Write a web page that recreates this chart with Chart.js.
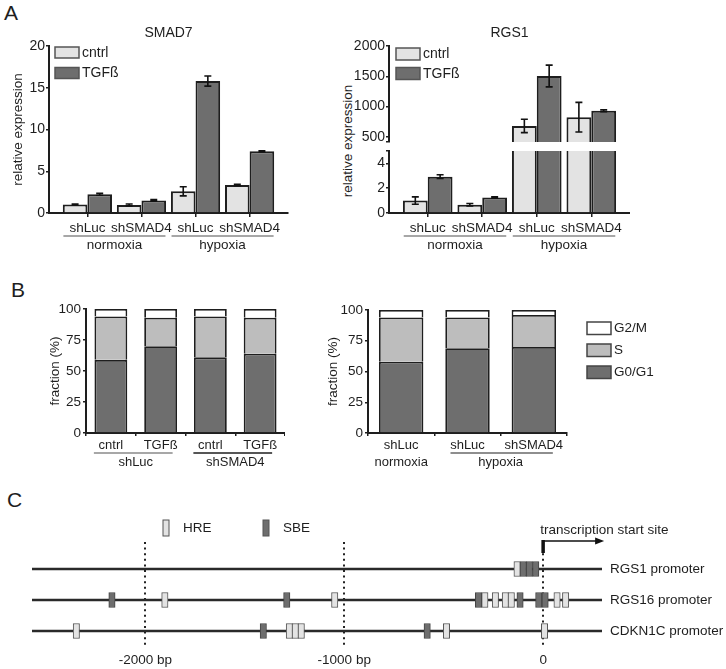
<!DOCTYPE html>
<html>
<head>
<meta charset="utf-8">
<title>SMAD7 / RGS1 expression, cell cycle and promoters</title>
<script src="https://cdn.jsdelivr.net/npm/chart.js@4.4.1/dist/chart.umd.min.js"></script>
<style>
  body { margin: 0; background: #fff; }
  #fig { position: relative; width: 726px; height: 669px; overflow: hidden;
         font-family: 'Liberation Sans', Arial, sans-serif; color: #1e1e1e; }
  #fig canvas { position: absolute; }
  .txt { position: absolute; white-space: nowrap; line-height: 1; }
  .panel { font-size: 21px; }
  .ylab { font-size: 13.5px; transform: translate(-50%, -50%) rotate(-90deg); }
</style>
</head>
<body>
<div id="fig">
  <div class="txt panel" style="left:4px;top:2px">A</div>
  <div class="txt panel" style="left:11px;top:279px">B</div>
  <div class="txt panel" style="left:7px;top:489px">C</div>
  <div class="txt ylab" style="left:348px;top:141px">relative expression</div>
  <canvas id="smad7" width="300" height="260" style="left:0;top:0"></canvas>
  <canvas id="rgs1Top" width="290" height="152" style="left:340px;top:0"></canvas>
  <canvas id="rgs1Bottom" width="290" height="120" style="left:340px;top:140px"></canvas>
  <canvas id="cycleLeft" width="249" height="177" style="left:36px;top:298px"></canvas>
  <canvas id="cycleRight" width="406" height="176" style="left:320px;top:299px"></canvas>
  <canvas id="promoters" width="726" height="189" style="left:0;top:480px"></canvas>
</div>
<script>
const FONT = "'Liberation Sans', Arial, sans-serif";
const INK = '#1e1e1e';
const LIGHT = '#e3e3e3', MID = '#bdbdbd', DARK = '#6e6e6e';

// A - relative expression (mean, error)
const aCategories = ['shLuc', 'shSMAD4', 'shLuc', 'shSMAD4'];
const aSeries = ['cntrl', 'TGFß'];
const smad7Cntrl = [1.02, 0.95, 2.6, 3.35];
const smad7CntrlErr = [0.05, 0.12, 0.55, 0.08];
const smad7Tgf = [2.25, 1.5, 15.8, 7.4];
const smad7TgfErr = [0.12, 0.1, 0.6, 0.05];
const smad7Ticks = [0, 5, 10, 15, 20];
const rgs1Cntrl = [1.0, 0.67, 680, 825];
const rgs1CntrlErr = [0.3, 0.1, 110, 245];
const rgs1Tgf = [2.93, 1.25, 1505, 930];
const rgs1TgfErr = [0.15, 0.05, 180, 15];
const rgs1UpperTicks = [500, 1000, 1500, 2000];
const rgs1LowerTicks = [0, 2, 4];
const rgs1UpperMin = 415;   // axis break
const rgs1LowerMax = 5;

// B - cell cycle fractions (%)
const phases = ['G0/G1', 'S', 'G2/M'];
const cycleLeftLabels = ['cntrl', 'TGFß', 'cntrl', 'TGFß'];
const cycleLeftG0G1 = [59, 70, 61, 64];
const cycleLeftS = [35, 23, 33, 29];
const cycleLeftG2M = [6, 7, 6, 7];
const cycleRightLabels = ['shLuc', 'shLuc', 'shSMAD4'];
const cycleRightG0G1 = [58, 69, 70];
const cycleRightS = [36, 25, 26];
const cycleRightG2M = [6, 6, 4];
const cycleTicks = [0, 25, 50, 75, 100];

// C - binding sites (centre, bp relative to TSS)
const promoters = ['RGS1 promoter', 'RGS16 promoter', 'CDKN1C promoter'];
const hreSites = [
  [-131],
  [-1902, -1048, -293, -240, -190, -160, 70, 113],
  [-2347, -1276, -1246, -1216, -486, 7]
];
const sbeSites = [
  [-100, -69, -37],
  [-2168, -1289, -325, -116, -22, 10],
  [-1407, -583]
];
const siteWidth = 32;
const promoterSpan = [-2570, 296];
const bpTicks = [-2000, -1000, 0];
const bpTickLabels = ['-2000 bp', '-1000 bp', '0'];

Chart.defaults.font.family = FONT;
Chart.defaults.font.size = 13;
Chart.defaults.color = INK;
Chart.defaults.animation = false;
Chart.defaults.responsive = false;
Chart.defaults.plugins.legend.display = false;
Chart.defaults.plugins.tooltip.enabled = false;

// error bars from dataset.errors
const errorBars = {
  id: 'errorBars',
  afterDatasetsDraw(chart) {
    const ctx = chart.ctx, y = chart.scales.y;
    chart.data.datasets.forEach((ds, i) => {
      if (!ds.errors) return;
      const meta = chart.getDatasetMeta(i);
      meta.data.forEach((bar, j) => {
        const v = meta.controller.getParsed(j).y, e = ds.errors[j];
        if (v < y.min || v > y.max) return;
        const top = y.getPixelForValue(v + e), bot = y.getPixelForValue(v - e);
        ctx.save();
        ctx.strokeStyle = '#111';
        ctx.lineWidth = 1.6;
        ctx.beginPath();
        ctx.moveTo(bar.x, top); ctx.lineTo(bar.x, bot);
        ctx.moveTo(bar.x - 3.5, top); ctx.lineTo(bar.x + 3.5, top);
        ctx.moveTo(bar.x - 3.5, bot); ctx.lineTo(bar.x + 3.5, bot);
        ctx.stroke();
        ctx.restore();
      });
    });
  }
};

// second row of x labels with underline
const groupLabels = {
  id: 'groupLabels',
  afterDraw(chart, args, o) {
    if (!o.groups) return;
    const ctx = chart.ctx, x = chart.scales.x, b = chart.chartArea.bottom;
    ctx.save();
    ctx.font = o.size + 'px ' + FONT;
    ctx.textAlign = 'center';
    ctx.textBaseline = 'middle';
    o.groups.forEach(g => {
      const x0 = x.getPixelForValue(g.from), x1 = x.getPixelForValue(g.to);
      if (g.color) {
        ctx.strokeStyle = g.color;
        ctx.lineWidth = o.lineWidth;
        ctx.beginPath();
        ctx.moveTo(x0 - o.padL, b + o.lineY);
        ctx.lineTo(x1 + o.padR, b + o.lineY);
        ctx.stroke();
      }
      ctx.fillStyle = INK;
      ctx.fillText(g.label, (x0 + x1) / 2, b + o.textY);
    });
    ctx.restore();
  }
};

// small legend from the datasets
const boxLegend = {
  id: 'boxLegend',
  afterDraw(chart, args, o) {
    if (!o.size) return;
    const ctx = chart.ctx, a = chart.chartArea;
    let items = chart.data.datasets.filter(d => d.label).map(d => ({ text: d.label, color: d.backgroundColor }));
    if (o.reverse) items = items.reverse();
    ctx.save();
    ctx.font = o.size + 'px ' + FONT;
    ctx.textAlign = 'left';
    ctx.textBaseline = 'middle';
    items.forEach((it, k) => {
      const bx = (o.fromRight ? a.right : a.left) + o.x + k * (o.stepX || 0);
      const by = a.top + o.y + k * (o.stepY || 0);
      ctx.fillStyle = it.color;
      ctx.fillRect(bx, by, o.w, o.h);
      ctx.strokeStyle = o.edge;
      ctx.lineWidth = o.lw;
      ctx.strokeRect(bx, by, o.w, o.h);
      ctx.fillStyle = INK;
      ctx.fillText(it.text, bx + o.w + o.gap, by + o.h / 2 + 0.5);
    });
    ctx.restore();
  }
};

Chart.register(errorBars, groupLabels, boxLegend);

function barSets(cntrl, cntrlErr, tgf, tgfErr) {
  const common = { borderColor: INK, borderWidth: 2, categoryPercentage: 0.91, barPercentage: 1 };
  return [
    Object.assign({ label: aSeries[0], data: cntrl.map((v, i) => ({ x: i, y: v })), errors: cntrlErr, backgroundColor: LIGHT }, common),
    Object.assign({ label: aSeries[1], data: tgf.map((v, i) => ({ x: i, y: v })), errors: tgfErr, backgroundColor: DARK }, common)
  ];
}

function xAxisA(show) {
  const axis = {
    type: 'linear', display: show, min: -0.71, max: 3.71, bounds: 'data', offset: false,
    afterBuildTicks: s => { s.ticks = aCategories.map((c, i) => ({ value: i })); },
    ticks: { callback: v => aCategories[v], autoSkip: false, maxRotation: 0, padding: 3, font: { size: 13.5 } },
    grid: { offset: false, drawOnChartArea: false, tickLength: 4, color: INK, lineWidth: 1.5 },
    border: { color: INK, width: 2 }
  };
  if (show) axis.afterFit = s => { s.height = 47; };
  return axis;
}

function yAxisA(min, max, ticks, blank, title) {
  const all = blank === undefined ? ticks : ticks.concat([blank]);
  return {
    min: min, max: max,
    afterBuildTicks: s => { s.ticks = all.map(v => ({ value: v })); },
    ticks: { callback: v => (v === blank ? '' : v), autoSkip: false, padding: 1, font: { size: 14 } },
    grid: { drawOnChartArea: false, tickLength: 3, color: INK, lineWidth: 1.5 },
    border: { color: INK, width: 2 },
    title: title ? { display: true, text: title, font: { size: 13.5 }, padding: { top: 10, bottom: 0 } } : { display: false },
    afterFit: s => { s.width = 49; }
  };
}

const aGroupOpts = {
  size: 13.5, lineWidth: 1.5, lineY: 23, textY: 32, padL: 24, padR: 24,
  groups: [
    { from: 0, to: 1, label: 'normoxia', color: '#8a8a8a' },
    { from: 2, to: 3, label: 'hypoxia', color: '#8a8a8a' }
  ]
};
const aLegendOpts = { size: 14, x: 6, y: 1, w: 24, h: 11, stepY: 20.5, gap: 3, edge: '#555', lw: 1.5 };

new Chart(document.getElementById('smad7'), {
  type: 'bar',
  data: { datasets: barSets(smad7Cntrl, smad7CntrlErr, smad7Tgf, smad7TgfErr) },
  options: {
    layout: { padding: { top: 0, right: 12, bottom: 0, left: 0 } },
    plugins: {
      title: { display: true, text: 'SMAD7', fullSize: false, font: { size: 14, weight: 'normal' }, padding: { top: 24.6, bottom: 4.6 } },
      groupLabels: aGroupOpts,
      boxLegend: aLegendOpts
    },
    scales: { x: xAxisA(true), y: yAxisA(0, 20, smad7Ticks, undefined, 'relative expression') }
  }
});

new Chart(document.getElementById('rgs1Top'), {
  type: 'bar',
  data: { datasets: barSets(rgs1Cntrl, rgs1CntrlErr, rgs1Tgf, rgs1TgfErr) },
  options: {
    layout: { padding: { top: 0, right: 0, bottom: 10, left: 0 } },
    plugins: {
      title: { display: true, text: 'RGS1', fullSize: false, font: { size: 14, weight: 'normal' }, padding: { top: 24.6, bottom: 4.6 } },
      boxLegend: Object.assign({}, aLegendOpts, { x: 7, y: 2, h: 12, stepY: 19.5 })
    },
    scales: { x: xAxisA(false), y: yAxisA(rgs1UpperMin, 2000, rgs1UpperTicks, rgs1UpperMin) }
  }
});

new Chart(document.getElementById('rgs1Bottom'), {
  type: 'bar',
  data: { datasets: barSets(rgs1Cntrl, rgs1CntrlErr, rgs1Tgf, rgs1TgfErr) },
  options: {
    layout: { padding: { top: 11, right: 0, bottom: 0, left: 0 } },
    plugins: { groupLabels: aGroupOpts },
    scales: { x: xAxisA(true), y: yAxisA(0, rgs1LowerMax, rgs1LowerTicks, rgs1LowerMax) }
  }
});

// B
function cycleSets(g0g1, s, g2m, barPct) {
  const common = { borderColor: INK, borderWidth: 1.8, barPercentage: barPct, categoryPercentage: 1 };
  return [
    Object.assign({ label: phases[0], data: g0g1, backgroundColor: DARK }, common),
    Object.assign({ label: phases[1], data: s, backgroundColor: MID }, common),
    Object.assign({ label: phases[2], data: g2m, backgroundColor: '#ffffff' }, common)
  ];
}

function cycleScales(yWidth, titlePad) {
  return {
    x: {
      stacked: true,
      ticks: { autoSkip: false, maxRotation: 0, padding: 2, font: { size: 13 } },
      grid: { offset: true, drawOnChartArea: false, tickLength: 3, color: INK, lineWidth: 1.5 },
      border: { color: INK, width: 2 },
      afterFit: s => { s.height = 42; }
    },
    y: {
      stacked: true, min: 0, max: 100,
      afterBuildTicks: s => { s.ticks = cycleTicks.map(v => ({ value: v })); },
      ticks: { autoSkip: false, padding: 2, font: { size: 13.5 } },
      grid: { drawOnChartArea: false, tickLength: 3, color: INK, lineWidth: 1.5 },
      border: { color: INK, width: 2 },
      title: { display: true, text: 'fraction (%)', font: { size: 13.5 }, padding: { top: titlePad, bottom: 0 } },
      afterFit: s => { s.width = yWidth; }
    }
  };
}

new Chart(document.getElementById('cycleLeft'), {
  type: 'bar',
  data: { labels: cycleLeftLabels, datasets: cycleSets(cycleLeftG0G1, cycleLeftS, cycleLeftG2M, 0.66) },
  options: {
    layout: { padding: { top: 11, right: 0, bottom: 0, left: 0 } },
    plugins: {
      groupLabels: {
        size: 13, lineWidth: 1.5, lineY: 20, textY: 29, padL: 17, padR: 12,
        groups: [
          { from: 0, to: 1, label: 'shLuc', color: '#8a8a8a' },
          { from: 2, to: 3, label: 'shSMAD4', color: INK }
        ]
      }
    },
    scales: cycleScales(50, 11)
  }
});

new Chart(document.getElementById('cycleRight'), {
  type: 'bar',
  data: { labels: cycleRightLabels, datasets: cycleSets(cycleRightG0G1, cycleRightS, cycleRightG2M, 0.67) },
  options: {
    layout: { padding: { top: 11, right: 159, bottom: 0, left: 0 } },
    plugins: {
      groupLabels: {
        size: 13, lineWidth: 1.2, lineY: 20, textY: 29, padL: 17, padR: 19,
        groups: [
          { from: 0, to: 0, label: 'normoxia' },
          { from: 1, to: 2, label: 'hypoxia', color: INK }
        ]
      },
      boxLegend: { size: 13.5, fromRight: true, reverse: true, x: 20, y: 12, w: 24, h: 12.5, stepY: 22, gap: 3, edge: '#444', lw: 1.5 }
    },
    scales: cycleScales(48, 5)
  }
});

// C
function siteBars(lists) {
  const out = [];
  lists.forEach((list, row) => list.forEach(c => out.push({ x: [c - siteWidth / 2, c + siteWidth / 2], y: row })));
  return out;
}

const tssMarker = {
  id: 'tssMarker',
  afterDatasetsDraw(chart) {
    const ctx = chart.ctx, x = chart.scales.x.getPixelForValue(0), top = chart.chartArea.top - 1;
    ctx.save();
    ctx.strokeStyle = '#111';
    ctx.fillStyle = '#111';
    ctx.lineWidth = 3.5;
    ctx.beginPath(); ctx.moveTo(x, top + 12); ctx.lineTo(x, top - 1); ctx.stroke();
    ctx.lineWidth = 1.6;
    ctx.beginPath(); ctx.moveTo(x, top); ctx.lineTo(x + 54, top); ctx.stroke();
    ctx.beginPath(); ctx.moveTo(x + 61, top); ctx.lineTo(x + 52, top - 3.5); ctx.lineTo(x + 52, top + 3.5); ctx.closePath(); ctx.fill();
    ctx.font = '13.5px ' + FONT;
    ctx.textBaseline = 'middle';
    ctx.textAlign = 'left';
    ctx.fillStyle = INK;
    ctx.fillText('transcription start site', x - 3, top - 11);
    ctx.restore();
  }
};

new Chart(document.getElementById('promoters'), {
  type: 'bar',
  data: {
    datasets: [
      { label: 'HRE', data: siteBars(hreSites), backgroundColor: LIGHT, borderColor: '#555', borderWidth: 1, borderSkipped: false, barThickness: 15, grouped: false, order: 0 },
      { label: 'SBE', data: siteBars(sbeSites), backgroundColor: DARK, borderColor: '#444', borderWidth: 1, borderSkipped: false, barThickness: 15, grouped: false, order: 0 },
      { data: promoters.map((p, i) => ({ x: promoterSpan, y: i })), backgroundColor: '#2a2a2a', borderWidth: 0, barThickness: 2, grouped: false, order: 1 }
    ]
  },
  plugins: [tssMarker],
  options: {
    indexAxis: 'y',
    layout: { padding: { top: 62, right: 0, bottom: 0, left: 32 } },
    plugins: {
      boxLegend: { size: 13.5, x: 131, y: -22, stepX: 100, w: 6, h: 16, gap: 14, edge: '#555', lw: 1 }
    },
    scales: {
      x: {
        type: 'linear', min: promoterSpan[0], max: promoterSpan[1], bounds: 'data', offset: false,
        afterBuildTicks: s => { s.ticks = bpTicks.map(v => ({ value: v })); },
        ticks: { callback: (v, i) => bpTickLabels[i], autoSkip: false, maxRotation: 0, padding: 7, font: { size: 13.5 } },
        grid: { offset: false, drawTicks: false, color: '#222', lineWidth: 2 },
        border: { display: false, dash: [2, 3.6] },
        afterFit: s => { s.height = 24; }
      },
      y: {
        type: 'linear', position: 'right', reverse: true, min: -0.87, max: 2.45, offset: false,
        afterBuildTicks: s => { s.ticks = promoters.map((p, i) => ({ value: i })); },
        ticks: { callback: v => promoters[v], padding: 8, font: { size: 13.5 } },
        grid: { display: false, drawTicks: false },
        border: { display: false },
        afterFit: s => { s.width = 124; }
      }
    }
  }
});
</script>
</body>
</html>
